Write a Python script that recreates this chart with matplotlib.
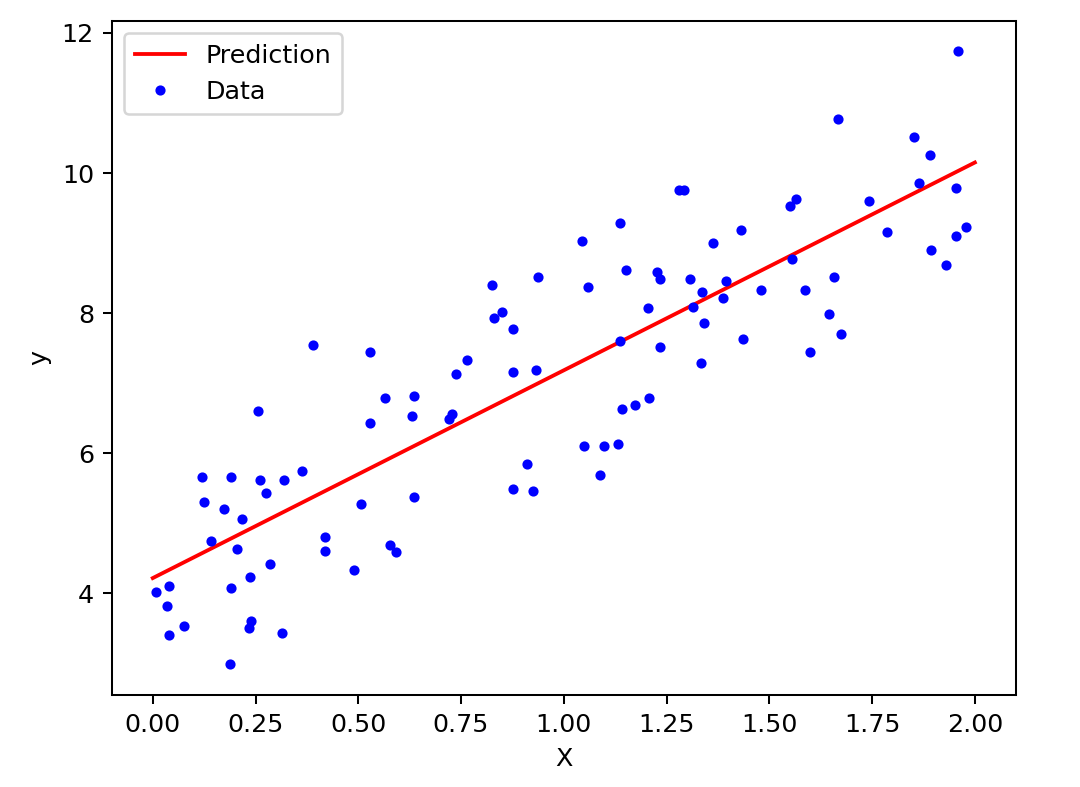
import matplotlib
matplotlib.use("Agg")
import matplotlib.pyplot as plt
import numpy as np

# Data points
x_data = [0.120, 0.191, 0.124, 0.173, 0.218, 0.141, 0.204, 0.284, 0.236, 0.191,
          0.008, 0.040, 0.035, 0.075, 0.039, 0.240, 0.235, 0.314, 0.187, 0.262,
          0.319, 0.275, 0.364, 0.257, 0.391, 0.418, 0.418,
          0.826, 0.937, 0.830, 0.849, 0.876, 0.528, 0.764, 0.737, 0.876, 0.933,
          0.565, 0.635, 0.528, 0.631, 0.720, 0.729, 0.911, 0.876, 0.925, 0.506,
          0.635, 0.577, 0.591, 0.489,
          1.281, 1.293, 1.137, 1.044, 1.363, 1.431, 1.564, 1.551, 1.555, 1.152,
          1.226, 1.235, 1.058, 1.307, 1.395, 1.337, 1.387, 1.480, 1.204, 1.315,
          1.342, 1.137, 1.235, 1.435, 1.334, 1.208, 1.173, 1.142, 1.048, 1.097,
          1.133, 1.088,
          1.960, 1.666, 1.853, 1.890, 1.863, 1.955, 1.742, 1.786, 1.955, 1.978,
          1.894, 1.929, 1.657, 1.587, 1.644, 1.675, 1.600]
y_data = [5.669, 5.669, 5.303, 5.203, 5.069, 4.754, 4.631, 4.417, 4.236, 4.083,
          4.021, 4.107, 3.821, 3.536, 3.403, 3.611, 3.503, 3.431, 2.989, 5.617,
          5.617, 5.436, 5.746, 6.607, 7.546, 4.807, 4.603,
          8.407, 8.511, 7.931, 8.017, 7.779, 7.440, 7.336, 7.126, 7.154, 7.183,
          6.793, 6.817, 6.426, 6.531, 6.497, 6.560, 5.854, 5.489, 5.464, 5.279,
          5.383, 4.689, 4.597, 4.336,
          9.754, 9.754, 9.293, 9.031, 9.007, 9.183, 9.631, 9.531, 8.769, 8.617,
          8.593, 8.483, 8.379, 8.483, 8.454, 8.303, 8.221, 8.326, 8.069, 8.093,
          7.854, 7.597, 7.517, 7.626, 7.283, 6.789, 6.683, 6.631, 6.111, 6.111,
          6.136, 5.697,
          11.736, 10.774, 10.511, 10.254, 9.864, 9.783, 9.603, 9.160, 9.103, 9.236,
          8.897, 8.689, 8.511, 8.326, 7.989, 7.703, 7.450]

# Prediction line
x_new = [0.0, 2.0]
y_predict = [4.22, 10.15]

dpi = 183
fig = plt.figure(figsize=(1080 / dpi, 787 / dpi), dpi=dpi)
ax = fig.add_axes([0.1034, 0.1169, 0.9407 - 0.1034, 0.9737 - 0.1169])

ax.plot(x_new, y_predict, "r-", label="Prediction")
ax.plot(x_data, y_data, "b.", label="Data")
ax.set_xlabel("X")
ax.set_ylabel("y")
ax.legend(loc="upper left")

fig.savefig("out.png", dpi=dpi)
